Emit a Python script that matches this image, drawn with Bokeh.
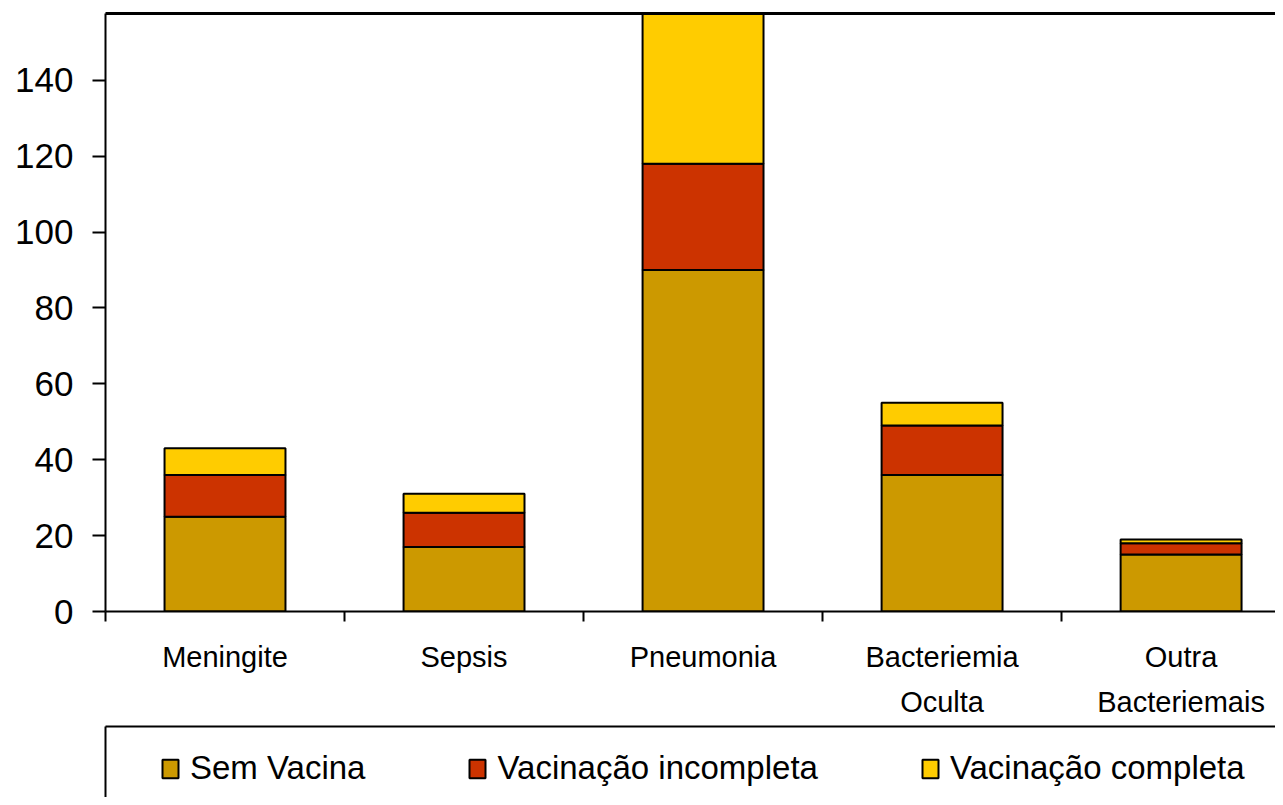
from bokeh.plotting import figure
from bokeh.models import (LinearAxis, FixedTicker, Range1d, Legend, LegendItem,
                          ColumnDataSource)
from bokeh.layouts import column
from bokeh.embed import file_html
from bokeh.resources import INLINE

# ---- data ----
categories = ["Meningite", "Sepsis", "Pneumonia", "Bacteriemia\nOculta", "Outra\nBacteriemais"]
sem_vacina = [25, 17, 90, 36, 15]
vacinacao_incompleta = [11, 9, 28, 13, 3]
vacinacao_completa = [7, 5, 40, 6, 1]
series_names = ["Sem Vacina", "Vacinação incompleta", "Vacinação completa"]
series_colors = ["#CC9900", "#CC3300", "#FFCC00"]
y_ticks = [0, 20, 40, 60, 80, 100, 120, 140, 160]

FONT = "Liberation Sans"

x_centers = [i + 0.5 for i in range(len(categories))]
src = ColumnDataSource(dict(x=x_centers, sem=sem_vacina,
                            inc=vacinacao_incompleta, comp=vacinacao_completa))
stack_keys = ["sem", "inc", "comp"]

# ---- main chart ----
p = figure(width=1275, height=720,
           x_range=Range1d(0, 4.895), y_range=Range1d(0, 157.6),
           output_backend="svg", toolbar_location=None,
           x_axis_type=None, y_axis_type=None,
           min_border_left=105, min_border_right=0, min_border_top=13,
           min_border_bottom=108)
p.outline_line_color = None
p.background_fill_color = "white"
p.border_fill_color = "white"

renderers = p.vbar_stack(stack_keys, x="x", width=0.506, source=src,
                         fill_color=series_colors, line_color="black", line_width=2)

yaxis = LinearAxis(ticker=FixedTicker(ticks=y_ticks, minor_ticks=[]),
                   axis_line_width=2, axis_line_color="black",
                   major_tick_out=13, major_tick_in=0, major_tick_line_width=2,
                   minor_tick_out=0, minor_tick_in=0,
                   major_label_text_font=FONT, major_label_text_font_size="35px",
                   major_label_text_color="black", major_label_standoff=19)
p.add_layout(yaxis, "left")

xaxis = LinearAxis(ticker=FixedTicker(ticks=x_centers,
                                      minor_ticks=list(range(len(categories) + 1))),
                   major_label_overrides={xc: c for xc, c in zip(x_centers, categories)},
                   axis_line_width=2, axis_line_color="black",
                   major_tick_out=0, major_tick_in=0,
                   minor_tick_out=10, minor_tick_in=0, minor_tick_line_width=2,
                   minor_tick_line_color="black",
                   major_label_text_font=FONT, major_label_text_font_size="29px",
                   major_label_text_color="black", major_label_standoff=19,
                   major_label_text_line_height=1.42)
p.add_layout(xaxis, "below")

top_line = LinearAxis(ticker=FixedTicker(ticks=[], minor_ticks=[]),
                      axis_line_width=3, axis_line_color="black",
                      major_tick_out=0, major_tick_in=0, minor_tick_out=0, minor_tick_in=0,
                      major_label_text_font_size="0px", major_label_standoff=0)
p.add_layout(top_line, "above")

# ---- legend strip ----
p2 = figure(width=1275, height=77, x_range=Range1d(0, 1), y_range=Range1d(0, 1),
            output_backend="svg", toolbar_location=None,
            x_axis_type=None, y_axis_type=None,
            min_border_left=105, min_border_right=0, min_border_top=6,
            min_border_bottom=0)
p2.outline_line_color = None
p2.xgrid.visible = False
p2.ygrid.visible = False
p2.border_fill_color = "white"

leg_renderers = p2.vbar_stack(stack_keys, x="x", width=0.506, source=src,
                              fill_color=series_colors, line_color="black", line_width=2)
for r in leg_renderers:
    r.visible = False

for side in ("left", "above"):
    p2.add_layout(LinearAxis(ticker=FixedTicker(ticks=[], minor_ticks=[]),
                             axis_line_width=2, axis_line_color="black",
                             major_tick_out=0, major_tick_in=0,
                             minor_tick_out=0, minor_tick_in=0,
                             major_label_text_font_size="0px",
                             major_label_standoff=0), side)

items = [LegendItem(label=n, renderers=[r]) for n, r in zip(series_names, leg_renderers)]
legend = Legend(items=items, orientation="horizontal", location=(55, 10),
                padding=0, spacing=102, glyph_width=20, glyph_height=23,
                label_standoff=10, label_text_font=FONT, label_text_font_size="33px",
                label_text_color="black", border_line_color=None,
                margin=0, background_fill_alpha=0)
p2.add_layout(legend, "center")

layout = column(p, p2, spacing=0)
open("out.html", "w").write(file_html(layout, INLINE))
